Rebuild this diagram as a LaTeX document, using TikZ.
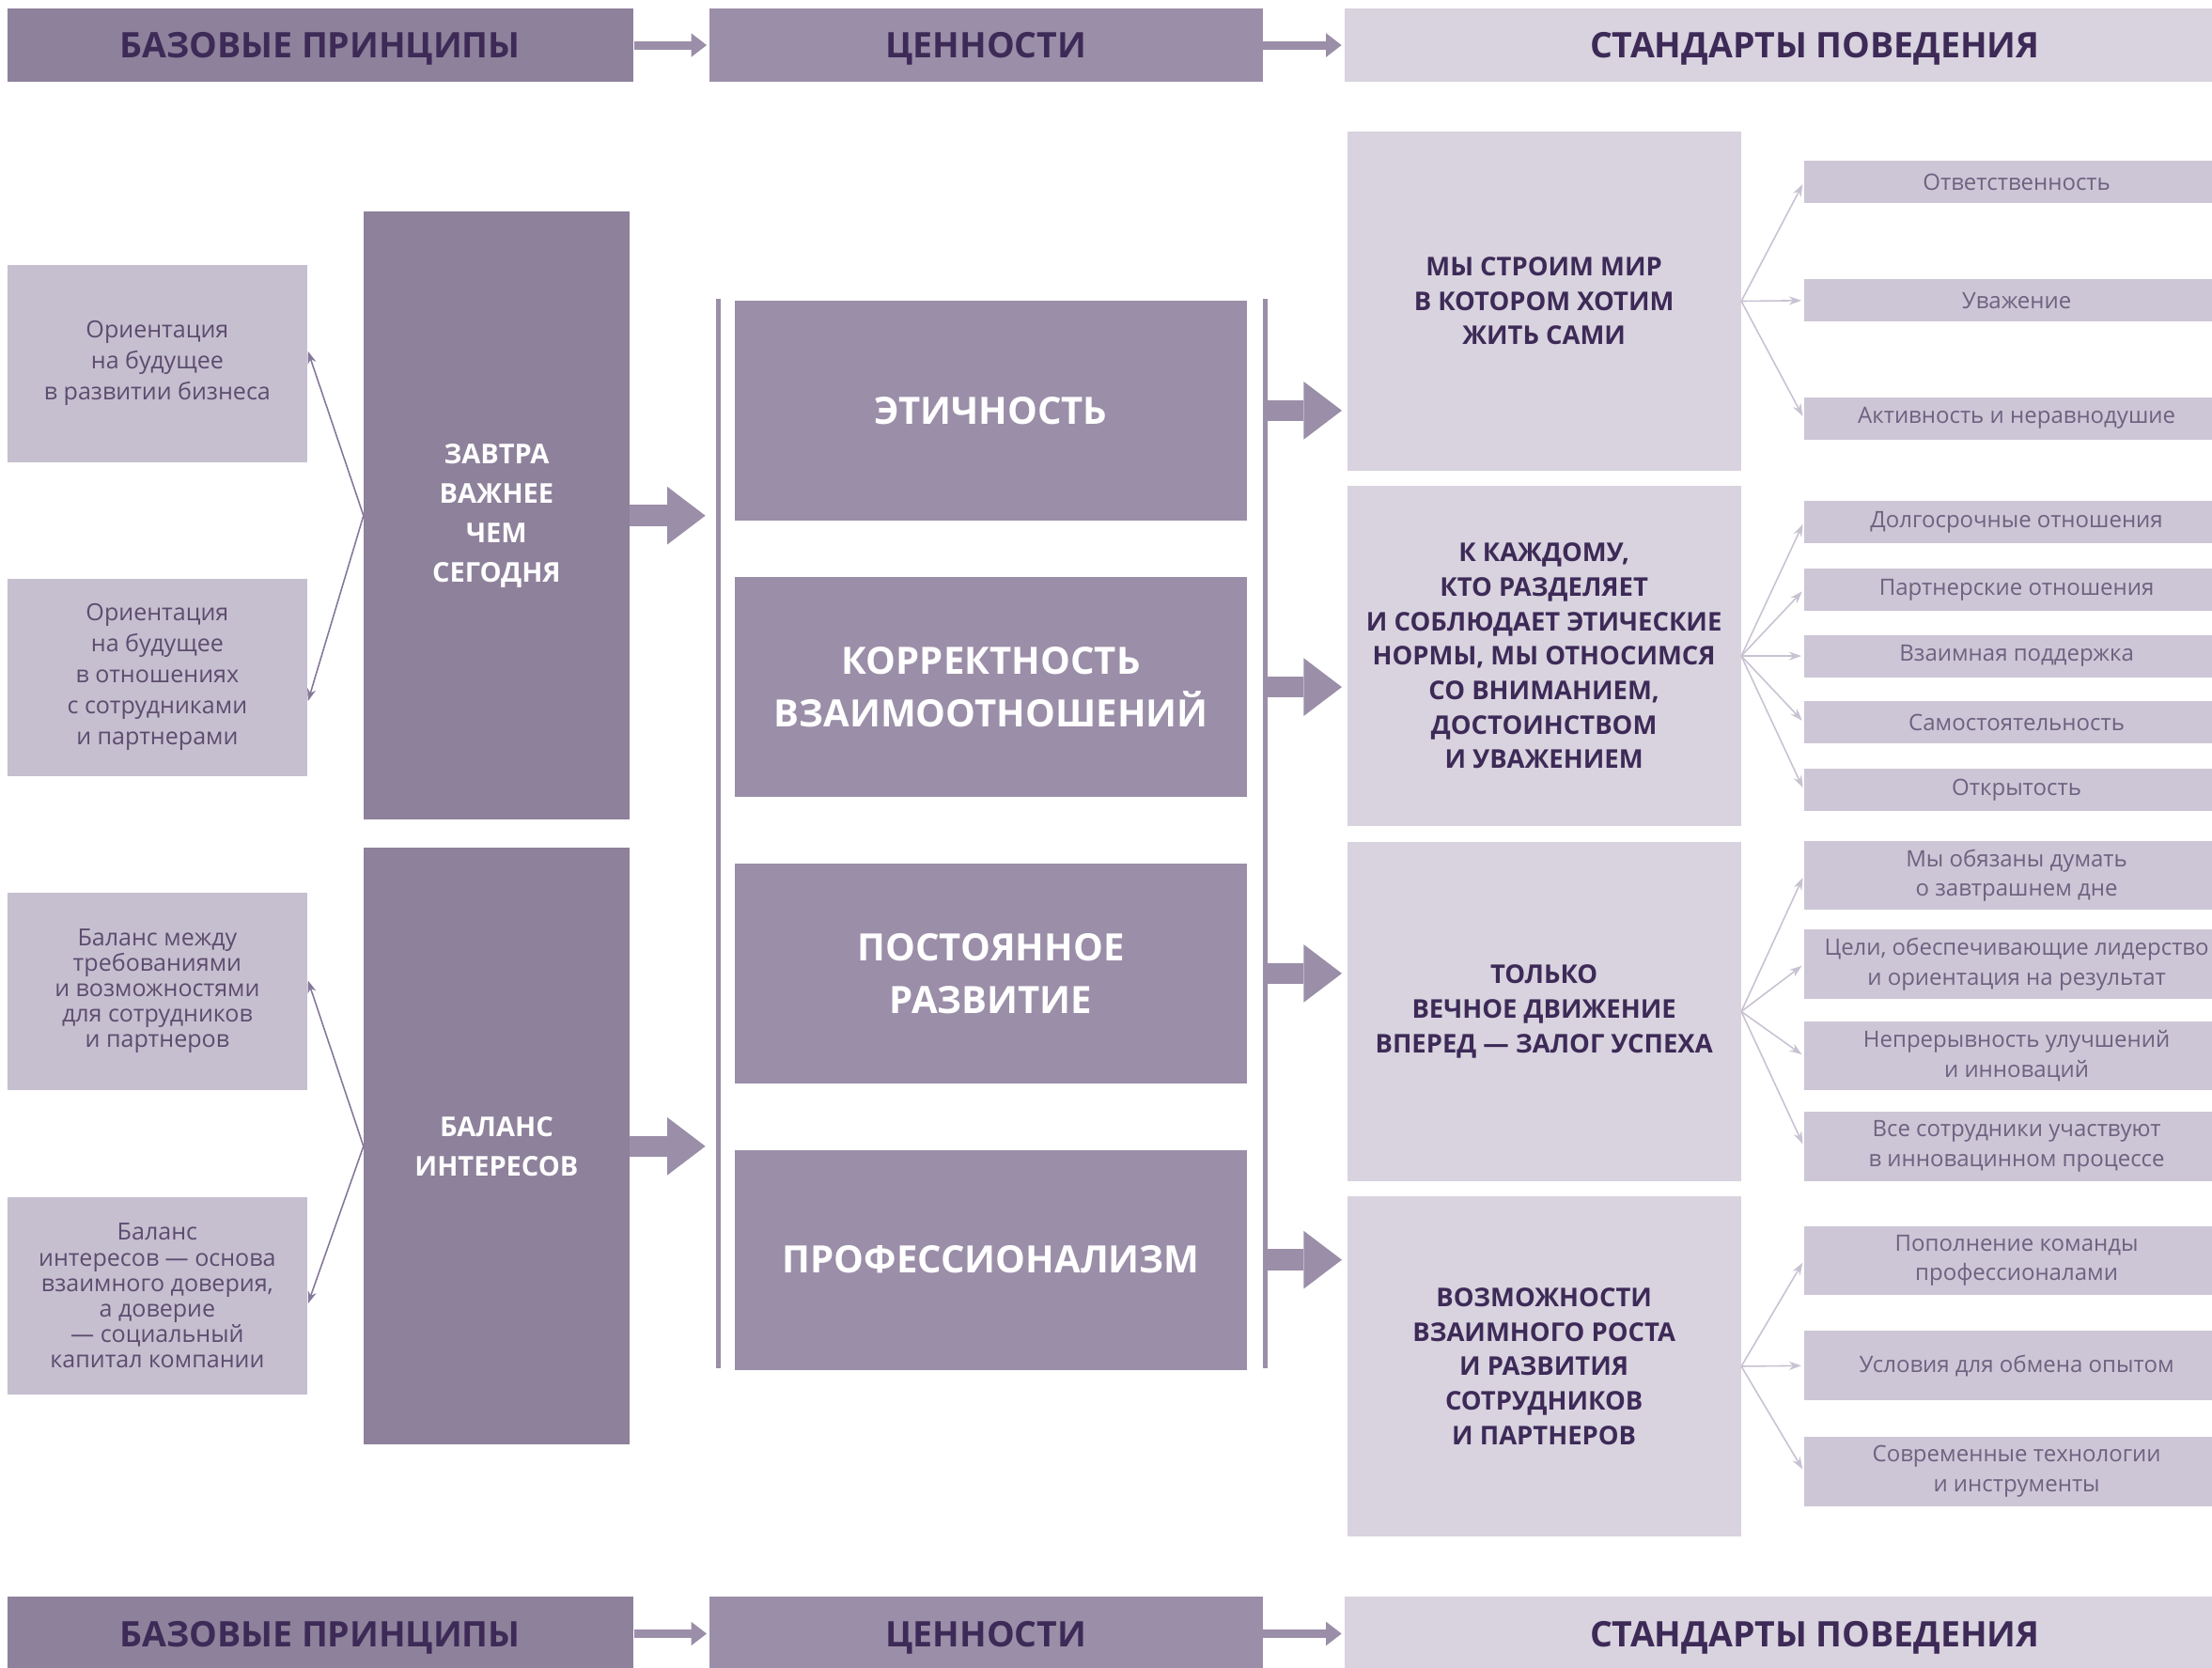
\documentclass[tikz,border=0pt]{standalone}
\usepackage{fontspec}
\setmainfont{Open Sans}
\usepackage{tikz}
\usetikzlibrary{arrows}
\usetikzlibrary{arrows.meta}
\usetikzlibrary{positioning}
\usetikzlibrary{calc}
\usepackage{xcolor}
\definecolor{pdark}{HTML}{8E819B}
\definecolor{pmid}{HTML}{9B8EA8}
\definecolor{plight}{HTML}{D8D3DF}
\definecolor{pleft}{HTML}{C6BFD0}
\definecolor{pitem}{HTML}{CDC6D6}
\definecolor{txtdark}{HTML}{3D2A57}
\definecolor{txtgrey}{HTML}{5C4D6F}
\definecolor{txtitem}{HTML}{6D6280}
\definecolor{linkdark}{HTML}{85789A}
\definecolor{linklight}{HTML}{C9C2D2}
\tikzset{
  >=latex,
  % Common styles for the scheme
  link/.style={-{Stealth[length=5pt,width=3.5pt]}, line width=0.6pt, draw=linkdark},
  fan/.style={-{Stealth[length=5pt,width=3.5pt]}, line width=0.6pt, draw=linklight, shorten >=1pt}
}

\begin{document}
\begin{tikzpicture}[
    x=0.02cm, y=-0.02cm,
    hbox/.style={rectangle, fill=#1, minimum height=1.04cm, inner sep=0pt, text depth=0pt,
                 text=txtdark, font=\fontsize{14.2}{17}\selectfont\bfseries},
    sidebox/.style={rectangle, fill=pleft, minimum width=4.26cm, minimum height=2.8cm,
                    inner sep=0pt, align=center, text=txtgrey,
                    font=\fontsize{9.5}{#1}\selectfont},
    princbox/.style={rectangle, fill=pdark, minimum width=3.76cm, inner sep=0pt,
                     align=center, text=white, font=\fontsize{11}{15.9}\selectfont\bfseries},
    valbox/.style={rectangle, fill=pmid, minimum width=7.26cm, minimum height=3.12cm,
                   inner sep=0pt, align=center, text=white,
                   font=\fontsize{15.2}{21.3}\selectfont\bfseries},
    stdbox/.style={rectangle, fill=plight, minimum width=5.58cm, minimum height=4.82cm,
                   inner sep=0pt, align=center, text=txtdark,
                   font=\fontsize{10.4}{13.9}\selectfont\bfseries},
    itembox/.style={rectangle, fill=pitem, minimum width=6.02cm, minimum height=#1,
                    inner sep=0pt, align=center, text=txtitem,
                    font=\fontsize{9.1}{12}\selectfont},
    flow/.style={-{Triangle[length=0.22cm,width=0.34cm,line width=0pt]},
                 line width=0.12cm, draw=pmid, shorten >=1pt},
    bigflow/.style={-{Triangle[length=0.54cm,width=0.82cm,line width=0pt]},
                    line width=0.3cm, draw=pmid},
    bar/.style={line width=0.07cm, draw=pmid}
]
\useasboundingbox (0,0) rectangle (1568,1182);
\clip (0,0) rectangle (1568,1182);

% Header row
\node[hbox=pdark, minimum width=8.88cm] (hprin) at (227,32) {БАЗОВЫЕ ПРИНЦИПЫ};
\node[hbox=pmid, minimum width=7.84cm] (hval) at (699,32) {ЦЕННОСТИ};
\node[hbox=plight, minimum width=13.34cm] (hstd) at (1286.5,32) {СТАНДАРТЫ ПОВЕДЕНИЯ};
\draw[flow] (hprin) -- (hval);
\draw[flow] (hval) -- (hstd);

% Footer row
\node[hbox=pdark, minimum width=8.88cm] (fprin) at (227,1158) {БАЗОВЫЕ ПРИНЦИПЫ};
\node[hbox=pmid, minimum width=7.84cm] (fval) at (699,1158) {ЦЕННОСТИ};
\node[hbox=plight, minimum width=13.34cm] (fstd) at (1286.5,1158) {СТАНДАРТЫ ПОВЕДЕНИЯ};
\draw[flow] (fprin) -- (fval);
\draw[flow] (fval) -- (fstd);

% Basic principles
\node[sidebox=12.5pt] (futbiz) at (111.5,257.5) {Ориентация\\на будущее\\в развитии бизнеса};
\node[sidebox=12.5pt] (futrel) at (111.5,480) {Ориентация\\на будущее\\в отношениях\\с сотрудниками\\и партнерами};
\node[sidebox=10.3pt] (balreq) at (111.5,702.5) {Баланс между\\требованиями\\и возможностями\\для сотрудников\\и партнеров};
\node[sidebox=10.3pt] (baltrust) at (111.5,918.5) {Баланс\\интересов — основа\\взаимного доверия,\\а доверие\\— социальный\\капитал компании};

\node[princbox, minimum height=8.62cm] (tomorrow) at (352,365.5) {ЗАВТРА\\ВАЖНЕЕ\\ЧЕМ\\СЕГОДНЯ};
\node[princbox, minimum height=8.46cm] (balance) at (352,812.5) {БАЛАНС\\ИНТЕРЕСОВ};

\draw[link] (tomorrow.west) -- ([yshift=0.17cm]futbiz.east);
\draw[link] (tomorrow.west) -- ([yshift=-0.34cm]futrel.east);
\draw[link] (balance.west) -- ([yshift=0.15cm]balreq.east);
\draw[link] (balance.west) -- ([yshift=-0.11cm]baltrust.east);

% Values
\coordinate (lbartop) at (509,212);
\coordinate (lbarbot) at (509,970);
\coordinate (rbartop) at (897,212);
\coordinate (rbarbot) at (897,970);
\draw[bar] (lbartop) -- (lbarbot);
\draw[bar] (rbartop) -- (rbarbot);

\node[valbox] (ethics) at (702.5,291) {ЭТИЧНОСТЬ};
\node[valbox] (relations) at (702.5,487) {КОРРЕКТНОСТЬ\\ВЗАИМООТНОШЕНИЙ};
\node[valbox] (growth) at (702.5,690) {ПОСТОЯННОЕ\\РАЗВИТИЕ};
\node[valbox] (prof) at (702.5,893) {ПРОФЕССИОНАЛИЗМ};

\draw[bigflow, shorten >=0.18cm] (tomorrow.east) -- (tomorrow.east -| lbartop);
\draw[bigflow, shorten >=0.18cm] (balance.east) -- (balance.east -| lbartop);

% Standards of behaviour
\node[stdbox] (world) at (1094.5,213.5) {МЫ СТРОИМ МИР\\В КОТОРОМ ХОТИМ\\ЖИТЬ САМИ};
\node[stdbox] (everyone) at (1094.5,465) {К КАЖДОМУ,\\КТО РАЗДЕЛЯЕТ\\И СОБЛЮДАЕТ ЭТИЧЕСКИЕ\\НОРМЫ, МЫ ОТНОСИМСЯ\\СО ВНИМАНИЕМ,\\ДОСТОИНСТВОМ\\И УВАЖЕНИЕМ};
\node[stdbox] (motion) at (1094.5,717) {ТОЛЬКО\\ВЕЧНОЕ ДВИЖЕНИЕ\\ВПЕРЕД — ЗАЛОГ УСПЕХА};
\node[stdbox] (mutual) at (1094.5,968.5) {ВОЗМОЖНОСТИ\\ВЗАИМНОГО РОСТА\\И РАЗВИТИЯ\\СОТРУДНИКОВ\\И ПАРТНЕРОВ};

\draw[bigflow, shorten >=2pt] (ethics.east -| rbartop) -- (ethics.east -| world.west);
\draw[bigflow, shorten >=2pt] (relations.east -| rbartop) -- (relations.east -| everyone.west);
\draw[bigflow, shorten >=2pt] (growth.east -| rbartop) -- (growth.east -| motion.west);
\draw[bigflow, shorten >=2pt] (prof.east -| rbartop) -- (prof.east -| mutual.west);

% Items
\node[itembox=0.6cm] (duty) at (1429.5,129) {Ответственность};
\node[itembox=0.6cm] (respect) at (1429.5,213) {Уважение};
\node[itembox=0.6cm] (activity) at (1429.5,296.5) {Активность и неравнодушие};

\node[itembox=0.6cm] (longterm) at (1429.5,370) {Долгосрочные отношения};
\node[itembox=0.6cm] (partner) at (1429.5,418) {Партнерские отношения};
\node[itembox=0.6cm] (support) at (1429.5,465) {Взаимная поддержка};
\node[itembox=0.6cm] (selfrel) at (1429.5,512) {Самостоятельность};
\node[itembox=0.6cm] (openness) at (1429.5,560) {Открытость};

\node[itembox=0.98cm] (think) at (1429.5,620.5) {Мы обязаны думать\\о завтрашнем дне};
\node[itembox=0.98cm] (goals) at (1429.5,683.5) {Цели, обеспечивающие лидерство\\и ориентация на результат};
\node[itembox=0.98cm] (improve) at (1429.5,748.5) {Непрерывность улучшений\\и инноваций};
\node[itembox=0.98cm] (innov) at (1429.5,812.5) {Все сотрудники участвуют\\в инновацинном процессе};

\node[itembox=0.98cm] (team) at (1429.5,893.5) {Пополнение команды\\профессионалами};
\node[itembox=0.98cm] (exchange) at (1429.5,968) {Условия для обмена опытом};
\node[itembox=0.98cm] (tech) at (1429.5,1043) {Современные технологии\\и инструменты};

% Fan-out arrows
\draw[fan] (world.east) -- (duty.west);
\draw[fan] (world.east) -- (respect.west);
\draw[fan] (world.east) -- (activity.west);

\draw[fan] (everyone.east) -- (longterm.west);
\draw[fan] (everyone.east) -- (partner.west);
\draw[fan] (everyone.east) -- (support.west);
\draw[fan] (everyone.east) -- (selfrel.west);
\draw[fan] (everyone.east) -- (openness.west);

\draw[fan] (motion.east) -- (think.west);
\draw[fan] (motion.east) -- (goals.west);
\draw[fan] (motion.east) -- (improve.west);
\draw[fan] (motion.east) -- (innov.west);

\draw[fan] (mutual.east) -- (team.west);
\draw[fan] (mutual.east) -- (exchange.west);
\draw[fan] (mutual.east) -- (tech.west);

\end{tikzpicture}
\end{document}
